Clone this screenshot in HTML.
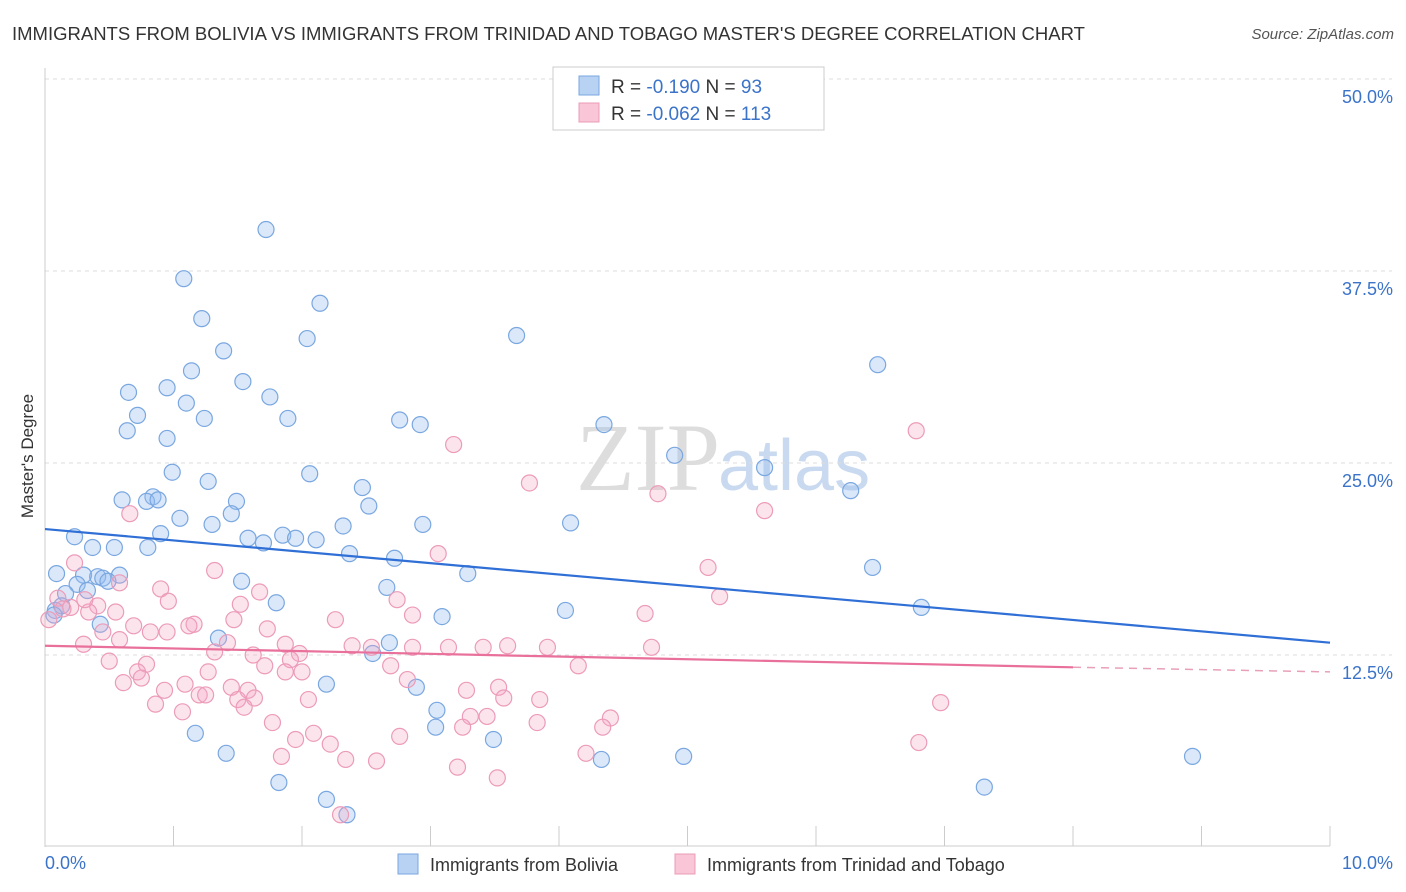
<!DOCTYPE html>
<html><head><meta charset="utf-8"><style>
body{margin:0;background:#fff;font-family:"Liberation Sans",sans-serif;}
#wrap{position:relative;width:1406px;height:892px;overflow:hidden;}
</style></head><body>
<div id="wrap">
<svg id="svg" width="1406" height="892" xmlns="http://www.w3.org/2000/svg" font-family="Liberation Sans, sans-serif">
<text x="12" y="40" font-size="18.5" fill="#333">IMMIGRANTS FROM BOLIVIA VS IMMIGRANTS FROM TRINIDAD AND TOBAGO MASTER'S DEGREE CORRELATION CHART</text>
<text x="1394" y="39" font-size="15" fill="#555" font-style="italic" text-anchor="end">Source: ZipAtlas.com</text>
<text x="33" y="456" font-size="17" fill="#333" text-anchor="middle" transform="rotate(-90 33 456)">Master's Degree</text>
<text x="720" y="490" font-size="96" fill="#ddd" text-anchor="end" font-family="Liberation Serif, serif">ZIP</text>
<text x="718" y="490" font-size="72" fill="#c9daf0">atlas</text>
<g id="grid"></g><g id="pts"></g><g id="lines"></g>
<g>
<rect x="553" y="67" width="271" height="63" fill="#fff" stroke="#ccc"/>
<rect x="579" y="76" width="20" height="19" fill="#b8d2f3" stroke="#7aa7e0"/>
<rect x="579" y="103" width="20" height="19" fill="#f8c6d6" stroke="#ec9bb8"/>
<text x="611" y="93" font-size="19" fill="#333">R = <tspan fill="#3b73c9">-0.190</tspan>   N = <tspan fill="#3b73c9">93</tspan></text>
<text x="611" y="120" font-size="19" fill="#333">R = <tspan fill="#3b73c9">-0.062</tspan>   N = <tspan fill="#3b73c9">113</tspan></text>
</g>
<g>
<rect x="398" y="854" width="20" height="20" fill="#b8d2f3" stroke="#7aa7e0"/>
<text x="430" y="871" font-size="18" fill="#333">Immigrants from Bolivia</text>
<rect x="675" y="854" width="20" height="20" fill="#f8c6d6" stroke="#ec9bb8"/>
<text x="707" y="871" font-size="18" fill="#333">Immigrants from Trinidad and Tobago</text>
</g>
</svg>
</div>
<script>
const yTicks=[12.5,25,37.5,50];
const xTickLabels=["0.0%","10.0%"];
const blueX=[1.72,1.08,2.14,1.22,2.04,3.67,1.39,6.48,1.14,1.54,0.65,0.95,1.75,1.10,0.72,1.24,1.89,2.76,2.92,4.35,0.64,0.95,4.90,5.60,0.99,2.06,1.27,2.47,6.27,0.84,0.60,0.79,0.88,1.49,2.52,1.05,1.45,4.09,1.30,2.94,2.32,0.90,0.23,1.58,1.85,1.95,1.70,2.11,0.37,0.54,0.80,2.37,2.72,0.09,0.30,0.41,0.58,0.45,3.29,6.44,1.53,0.49,0.25,2.66,0.16,0.33,1.80,6.82,4.05,3.09,0.08,0.13,0.43,1.35,2.68,2.55,2.19,2.89,3.05,3.04,1.17,3.49,1.41,4.33,4.97,8.93,1.82,7.31,2.19,2.35,0.07];
const blueY=[40.2,37.0,35.4,34.4,33.1,33.3,32.3,31.4,31.0,30.3,29.6,29.9,29.3,28.9,28.1,27.9,27.9,27.8,27.5,27.5,27.1,26.6,25.5,24.7,24.4,24.3,23.8,23.4,23.2,22.8,22.6,22.5,22.6,22.5,22.2,21.4,21.7,21.1,21.0,21.0,20.9,20.4,20.2,20.1,20.3,20.1,19.8,20.0,19.5,19.5,19.5,19.1,18.8,17.8,17.7,17.6,17.7,17.5,17.8,18.2,17.3,17.3,17.1,16.9,16.5,16.7,15.9,15.6,15.4,15.0,15.4,15.7,14.5,13.6,13.3,12.6,10.6,10.4,8.9,7.8,7.4,7.0,6.1,5.7,5.9,5.9,4.2,3.9,3.1,2.1,15.1];
const pinkX=[3.18,6.78,3.77,4.77,5.60,0.66,3.06,0.23,5.16,1.32,0.58,0.90,1.67,5.25,2.74,0.96,1.52,0.41,0.20,0.34,0.55,0.03,4.67,2.86,2.26,1.16,1.12,1.47,0.69,0.95,0.82,1.73,0.45,0.58,0.30,1.42,1.87,2.39,2.54,2.86,3.14,3.41,3.60,3.91,4.72,1.32,1.62,1.98,1.91,0.50,0.79,1.71,2.69,4.15,0.72,1.87,2.00,1.27,0.75,2.82,0.61,1.09,3.53,0.93,1.45,3.28,1.58,3.57,1.20,1.25,1.63,1.50,2.05,3.85,6.97,0.86,1.55,1.07,3.31,3.44,4.40,3.25,1.77,3.83,4.34,2.09,2.76,1.95,2.22,6.80,4.21,1.84,2.34,2.58,3.21,3.52,2.30,0.31,0.10,0.14];
const pinkY=[26.2,27.1,23.7,23.0,21.9,21.7,19.1,18.5,18.2,18.0,17.2,16.8,16.6,16.3,16.1,16.0,15.8,15.7,15.6,15.3,15.3,14.8,15.2,15.1,14.8,14.5,14.4,14.8,14.4,14.0,14.0,14.2,14.0,13.5,13.2,13.3,13.2,13.1,13.0,13.0,13.0,13.0,13.1,13.0,13.0,12.7,12.5,12.6,12.2,12.1,11.9,11.8,11.8,11.8,11.4,11.4,11.4,11.4,11.0,10.9,10.7,10.6,10.4,10.2,10.4,10.2,10.2,9.7,9.9,9.9,9.7,9.6,9.6,9.6,9.4,9.3,9.1,8.8,8.5,8.5,8.4,7.8,8.1,8.1,7.8,7.4,7.2,7.0,6.7,6.8,6.1,5.9,5.7,5.6,5.2,4.5,2.1,16.1,16.2,15.5];
const blueTrend=[20.7,13.3];
const pinkTrend=[13.1,11.7,11.4];
const NS="http://www.w3.org/2000/svg";
const sx=v=>45+v*128.5, sy=v=>847-v*15.36;
function mk(tag,attrs,parent){const e=document.createElementNS(NS,tag);for(const k in attrs)e.setAttribute(k,attrs[k]);parent.appendChild(e);return e;}
const grid=document.getElementById('grid');
yTicks.forEach(t=>{
 const l=mk('line',{x1:45,x2:1392,y1:sy(t),y2:sy(t),stroke:'#ddd','stroke-dasharray':'4,4'},grid);
 
 
 const tx=mk('text',{x:1393,y:sy(t)+24,'font-size':18,fill:'#3b73c9','text-anchor':'end'},grid);
 tx.textContent=t.toFixed(1)+'%';
 
 
});
mk('line',{x1:45,x2:45,y1:68,y2:847,stroke:'#ccc'},grid);
mk('line',{x1:45,x2:1330,y1:846,y2:846,stroke:'#ccc'},grid);
for(let i=0;i<=10;i++){const t=mk('line',{x1:sx(i),x2:sx(i),y1:826,y2:846,stroke:'#ccc'},grid);
 
 }
[[45,'start',0],[1393,'end',1]].forEach(a=>{const t=mk('text',{x:a[0],y:869,'font-size':18,fill:'#3b73c9','text-anchor':a[1]},grid);t.textContent=xTickLabels[a[2]];
 
 });
const pts=document.getElementById('pts');
blueX.forEach((x,i)=>{const c=mk('circle',{cx:sx(x),cy:sy(blueY[i]),r:8,fill:'rgba(150,190,240,0.35)',stroke:'#7aa7e0','stroke-width':1.2},pts);
 
 });
pinkX.forEach((x,i)=>{const c=mk('circle',{cx:sx(x),cy:sy(pinkY[i]),r:8,fill:'rgba(245,165,195,0.3)',stroke:'#ec9bb8','stroke-width':1.2},pts);
 
 });
const lines=document.getElementById('lines');
const bl=mk('line',{x1:sx(0),y1:sy(blueTrend[0]),x2:sx(10),y2:sy(blueTrend[1]),stroke:'#2f6fd6','stroke-width':2.2},lines);


const pl=mk('line',{x1:sx(0),y1:sy(pinkTrend[0]),x2:sx(8),y2:sy(pinkTrend[1]),stroke:'#e8709a','stroke-width':2.2},lines);


const pd=mk('line',{x1:sx(8),y1:sy(pinkTrend[1]),x2:sx(10),y2:sy(pinkTrend[2]),stroke:'#e8a0b8','stroke-width':1.5,'stroke-dasharray':'8,6'},lines);


</script>
</body></html>
